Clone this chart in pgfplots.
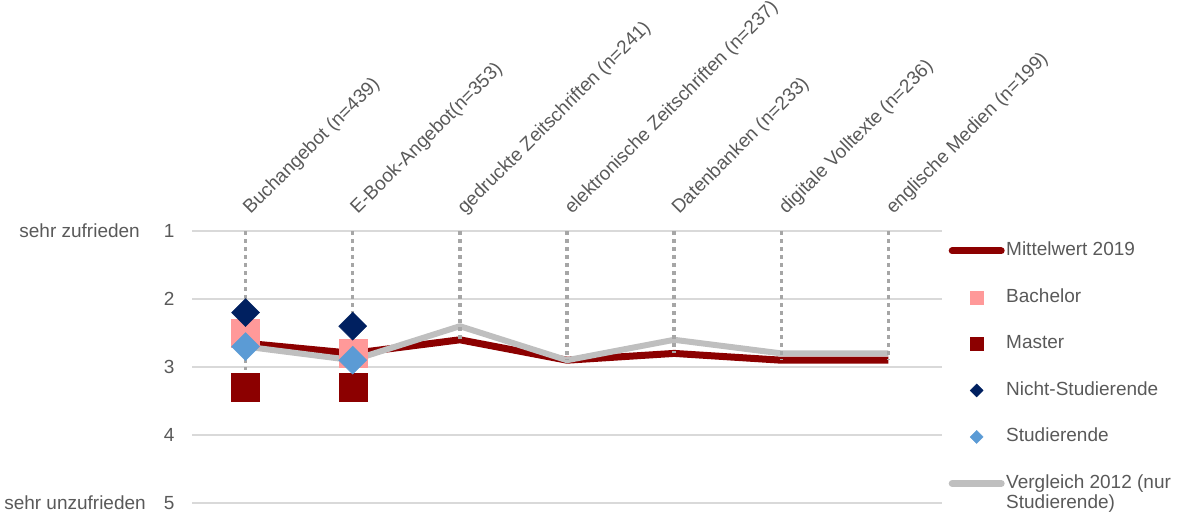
\documentclass[border=0pt]{standalone}
\usepackage{pgfplots}
\pgfplotsset{compat=1.18}
\usepackage{fontspec}
\setmainfont{Liberation Sans}
\definecolor{txt}{RGB}{89,89,89}
\definecolor{mred}{RGB}{140,0,0}
\definecolor{bach}{RGB}{255,153,153}
\definecolor{navy}{RGB}{0,32,96}
\definecolor{lblue}{RGB}{91,155,213}
\definecolor{lgray}{RGB}{191,191,191}
\definecolor{dgray}{RGB}{166,166,166}
\definecolor{gridc}{RGB}{217,217,217}
\newcommand{\fs}{\fontsize{19bp}{20bp}\selectfont}
\begin{document}
\begin{tikzpicture}
\useasboundingbox (0,0) rectangle (1179bp,515bp);
\begin{axis}[
  at={(192bp,12bp)}, anchor=south west,
  scale only axis, width=750bp, height=272bp,
  xmin=-0.5, xmax=6.5, ymin=1, ymax=5, y dir=reverse,
  xtick={0,...,6},
  xticklabels={Buchangebot (n=439),E-Book-Angebot(n=353),gedruckte Zeitschriften (n=241),elektronische Zeitschriften (n=237),Datenbanken (n=233),digitale Volltexte (n=236),englische Medien (n=199)},
  ytick={1,...,5},
  ymajorgrids, grid style={gridc, line width=1.5bp},
  axis line style={draw=none}, major tick length=0pt,
  xticklabel pos=right,
  /pgf/number format/assume math mode=true,
  tick label style={font=\fs, text=txt},
  xticklabel style={xshift=5bp, yshift=16bp, rotate=45, anchor=base west, inner sep=0pt},
  yticklabel style={anchor=east, xshift=-14bp},
  clip=false,
  legend style={at={(1,0.965)}, anchor=north west, xshift=6.5bp, draw=none, fill=none,
    inner sep=0pt, row sep=26bp, font=\fs, text=txt,
    nodes={inner sep=1.5bp, text height=13.5bp, text depth=4bp}},
  legend cell align=left,
]
% legend entries
\addlegendimage{legend image code/.code={\path[draw=none,fill=none] (0bp,0bp) -- (55bp,0bp); \draw[mred, line width=7bp, line cap=round] (3bp,0bp) -- (52bp,0bp);}}
\addlegendentry{Mittelwert 2019}
\addlegendimage{legend image code/.code={\path[draw=none,fill=none] (0bp,0bp) -- (55bp,0bp); \path[draw=none] plot[mark=square*, mark size=6.5bp, mark options={draw=bach, fill=bach}] coordinates {(27.5bp,0bp)};}}
\addlegendentry{Bachelor}
\addlegendimage{legend image code/.code={\path[draw=none,fill=none] (0bp,0bp) -- (55bp,0bp); \path[draw=none] plot[mark=square*, mark size=6.5bp, mark options={draw=mred, fill=mred}] coordinates {(27.5bp,0bp)};}}
\addlegendentry{Master}
\addlegendimage{legend image code/.code={\path[draw=none,fill=none] (0bp,0bp) -- (55bp,0bp); \path[draw=none] plot[mark=square*, mark size=4.6bp, mark options={draw=navy, fill=navy, rotate=45}] coordinates {(27.5bp,0bp)};}}
\addlegendentry{Nicht-Studierende}
\addlegendimage{legend image code/.code={\path[draw=none,fill=none] (0bp,0bp) -- (55bp,0bp); \path[draw=none] plot[mark=square*, mark size=4.6bp, mark options={draw=lblue, fill=lblue, rotate=45}] coordinates {(27.5bp,0bp)};}}
\addlegendentry{Studierende}
\addlegendimage{legend image code/.code={\path[draw=none,fill=none] (0bp,0bp) -- (55bp,0bp); \draw[lgray, line width=7bp, line cap=round] (3bp,0bp) -- (52bp,0bp);}}
\addlegendentry{\begin{tabular}[t]{@{}l@{}}Vergleich 2012 (nur\\Studierende)\end{tabular}}

% Mittelwert 2019
\addplot[forget plot, mred, line width=7bp, line join=round, mark=none] coordinates {
 (0,2.65) (1,2.8) (2,2.6) (3,2.9) (4,2.8) (5,2.9) (6,2.9)};
% Vergleich 2012
\addplot[forget plot, lgray, line width=6bp, line join=round, mark=none] coordinates {
 (0,2.7) (1,2.9) (2,2.4) (3,2.9) (4,2.6) (5,2.8) (6,2.8)};
% high-low lines
\addplot[forget plot, dgray, line width=3.5bp, dash pattern=on 3.5bp off 4.5bp, mark=none, unbounded coords=jump] coordinates {
 (0,1) (0,3.05) (0,nan) (1,1) (1,2.9) (1,nan) (2,1) (2,2.6) (2,nan) (3,1) (3,2.9) (3,nan)
 (4,1) (4,2.8) (4,nan) (5,1) (5,2.9) (5,nan) (6,1) (6,2.9)};
% Bachelor
\addplot[forget plot, only marks, mark=square*, mark size=14bp, mark options={draw=bach, fill=bach}] coordinates {(0,2.5) (1,2.8)};
% Master
\addplot[forget plot, only marks, mark=square*, mark size=14bp, mark options={draw=mred, fill=mred}] coordinates {(0,3.3) (1,3.3)};
% Nicht-Studierende
\addplot[forget plot, only marks, mark=square*, mark size=9.9bp, mark options={draw=navy, fill=navy, rotate=45}] coordinates {(0,2.2) (1,2.4)};
% Studierende
\addplot[forget plot, only marks, mark=square*, mark size=9.9bp, mark options={draw=lblue, fill=lblue, rotate=45}] coordinates {(0,2.7) (1,2.9)};

\node[anchor=east, font=\fs, text=txt, inner sep=0pt] at ([xshift=-52bp]rel axis cs:0,1) {sehr zufrieden};
\node[anchor=east, font=\fs, text=txt, inner sep=0pt] at ([xshift=-46bp]rel axis cs:0,0) {sehr unzufrieden};
\end{axis}
\end{tikzpicture}
\end{document}
